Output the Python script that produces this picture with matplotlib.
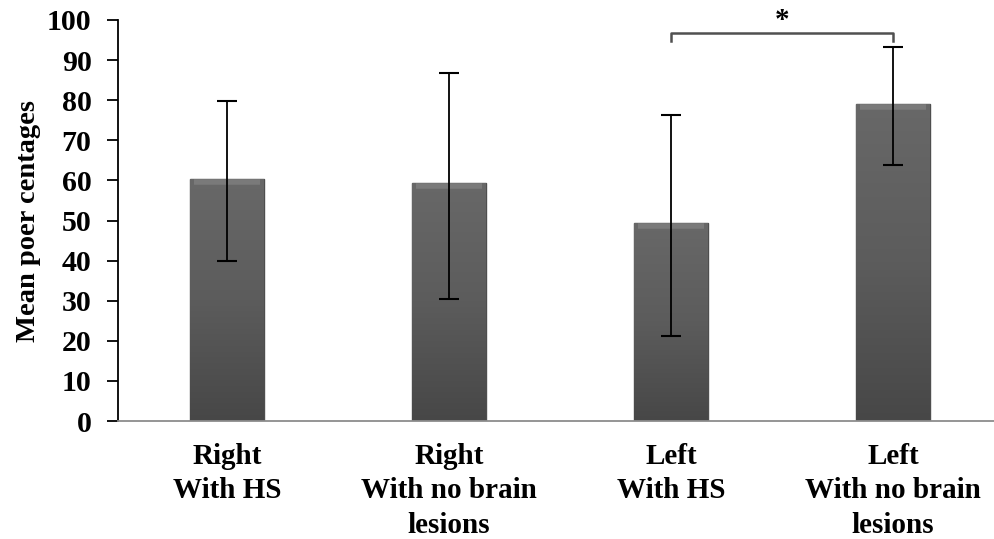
import numpy as np
import matplotlib
matplotlib.use("Agg")
import matplotlib.pyplot as plt
from matplotlib.colors import LinearSegmentedColormap

categories = ["Right\nWith HS", "Right\nWith no brain\nlesions", "Left\nWith HS", "Left\nWith no brain\nlesions"]
means = [60.3, 59.4, 49.5, 79.0]
err_low = [40.0, 30.4, 21.3, 63.8]
err_high = [79.9, 86.7, 76.3, 93.3]
yticks = [0, 10, 20, 30, 40, 50, 60, 70, 80, 90, 100]
sig_pair = (2, 3)
sig_level = 96.8
sig_label = "*"
ylabel = "Mean poer centages"

plt.rcParams['font.family'] = ['Liberation Serif', 'DejaVu Serif']
plt.rcParams['font.weight'] = 'bold'

fig = plt.figure(figsize=(9.94, 5.39), dpi=100)
ax = fig.add_axes([118/994, 118/539, (994-118)/994, (421-20)/539])

x = np.arange(len(categories))
lower = np.array(means) - np.array(err_low)
upper = np.array(err_high) - np.array(means)
bars = ax.bar(x, means, width=0.333, color='#5a5a5a', edgecolor='#4e4e4e', linewidth=1.0, zorder=2)

# vertical gradient inside each bar
grad = np.linspace(0, 1, 256).reshape(-1, 1)
cmap = LinearSegmentedColormap.from_list('g', ['#474747', '#5c5c5c', '#686868'])
for b in bars:
    x0, y0 = b.get_x(), b.get_y()
    w, h = b.get_width(), b.get_height()
    im = ax.imshow(grad, extent=[x0, x0 + w, y0, y0 + h], origin='lower', cmap=cmap,
                   aspect='auto', zorder=2.1)
    im.set_clip_path(b)
    # light bevel along the top of the bar
    ax.plot([x0 + w * 0.05, x0 + w * 0.95], [y0 + h - 0.8, y0 + h - 0.8],
            color='#7a7a7a', linewidth=4, solid_capstyle='butt', zorder=2.2)

ax.errorbar(x, means, yerr=[lower, upper], fmt='none', ecolor='black', elinewidth=1.3,
            capsize=7, capthick=1.5, zorder=3)

ax.set_xlim(-0.491, 3.455)
ax.set_ylim(0, 100)
ax.set_yticks(yticks)
ax.set_yticklabels([str(v) for v in yticks], fontsize=21.5, fontweight='bold')
ax.set_xticks(x)
ax.set_xticklabels(categories, fontsize=21, fontweight='bold', linespacing=1.34)
ax.tick_params(axis='x', length=0, pad=16)
ax.tick_params(axis='y', direction='out', length=8, width=1.3, pad=11)

ax.spines['top'].set_visible(False)
ax.spines['right'].set_visible(False)
ax.spines['left'].set_linewidth(1.3)
ax.spines['bottom'].set_color('#8c8c8c')
ax.spines['bottom'].set_linewidth(1.3)

ax.set_ylabel(ylabel, fontsize=20.5, fontweight='bold', labelpad=4)

# significance bracket
i, j = sig_pair
ax.plot([x[i], x[i], x[j], x[j]], [sig_level - 2.0, sig_level, sig_level, sig_level - 2.0],
        color='#505050', linewidth=1.8, clip_on=False, zorder=4)
ax.text((x[i] + x[j]) / 2, sig_level - 0.3, sig_label, ha='center', va='bottom',
        fontsize=21, fontweight='bold')

fig.savefig("out.png", dpi=100)
